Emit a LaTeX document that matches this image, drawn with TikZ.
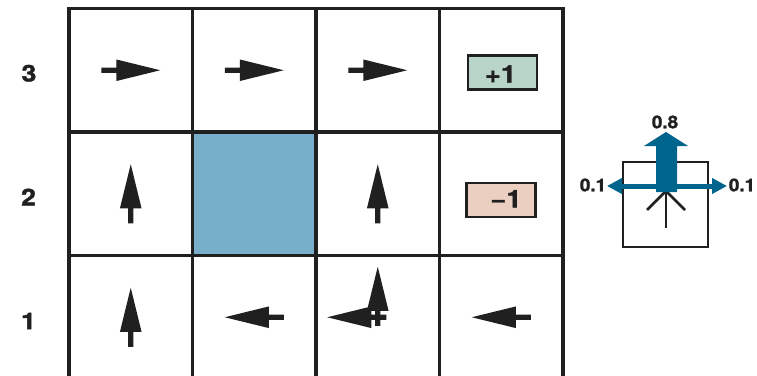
\documentclass[tikz,border=0pt]{standalone}
\usepackage{fontspec}
\setmainfont{TeX Gyre Heros}[BoldFeatures={FakeBold=1.5}]
\usetikzlibrary{arrows.meta}
\definecolor{gridc}{HTML}{202020}
\definecolor{blockc}{HTML}{77AFCB}
\definecolor{plusc}{HTML}{B9D5C9}
\definecolor{minusc}{HTML}{EBD0C1}
\definecolor{probc}{HTML}{00658C}
\begin{document}
\begin{tikzpicture}[x=1pt,y=-1pt,
  cell/.style={draw=gridc, line width=3.2pt, minimum size=123.5pt, inner sep=0pt, outer sep=0pt},
  rowlab/.style={font=\bfseries\fontsize{23}{23}\selectfont, text=gridc, inner sep=0pt, xscale=1.15},
  rbox/.style={draw=gridc, line width=2.2pt, minimum width=69pt, minimum height=34pt, inner sep=0pt},
  rtext/.style={font=\bfseries\fontsize{24.5}{24.5}\selectfont, text=gridc, inner sep=0pt, xscale=1.12},
  problab/.style={font=\bfseries\fontsize{17.5}{17.5}\selectfont, text=gridc, inner sep=0pt, xscale=1.08},
  arR/.pic={\fill[gridc] (-29.5,-2.6)--(-14.5,-2.6)--(-14.5,-10.8)--(29.5,0)--(-14.5,10.8)--(-14.5,2.6)--(-29.5,2.6)--cycle;},
  arL/.pic={\fill[gridc] (29.5,-2.6)--(14.5,-2.6)--(14.5,-10.8)--(-29.5,0)--(14.5,10.8)--(14.5,2.6)--(29.5,2.6)--cycle;},
  arU/.pic={\fill[gridc] (-2.6,29.5)--(-2.6,14.5)--(-10.8,14.5)--(0,-29.5)--(10.8,14.5)--(2.6,14.5)--(2.6,29.5)--cycle;}
]
\useasboundingbox (0,0) rectangle (757,375);
\clip (0,0) rectangle (757,375);
\fill[white] (0,0) rectangle (757,375);

% grid cells
\foreach \c in {1,...,4}{
  \foreach \r in {1,2,3}{
    \node[cell] (c\c\r) at ({69+123.5*(\c-0.5)}, {379-123.5*(\r-0.5)}) {};
  }
}
\fill[blockc] ([xshift=1.6pt,yshift=-1.6pt]c22.north west) rectangle ([xshift=-1.6pt,yshift=1.6pt]c22.south east);

% row labels
\node[rowlab] (r3) at (29,73.3) {3};
\node[rowlab] (r2) at (28.5,197) {2};
\node[rowlab] (r1) at (28.5,321) {1};

% policy arrows
\pic at (c13) {arR};
\pic at (c23) {arR};
\pic at (c33) {arR};
\pic at (c12) {arU};
\pic at (c32) {arU};
\pic at (c11) {arU};
\pic at (c21) {arL};
\pic at ([xshift=-21pt]c31) {arL};
\pic at ([yshift=21pt]c31) {arU};
\pic at (c41) {arL};

% rewards
\node[rbox, fill=plusc] (plus) at (502.5,72.5) {};
\node[rtext] (plust) at (500.5,74) {+1};
\node[rbox, fill=minusc] (minus) at (501,200) {};
\node[rtext] (minust) at (506,198.7) {−1};

% transition model
\node[draw=gridc, line width=2.2pt, minimum size=85pt, inner sep=0pt] (sbox) at (665.5,204.5) {};
\draw[gridc, line width=2.8pt] (666,228) -- (666,192);
\draw[gridc, line width=2.8pt] (647,210) -- (666,191) -- (685,210);
\coordinate (pl) at (607,186);
\coordinate (pr) at (727,186);
\draw[probc, line width=5pt, {Triangle[length=15pt,width=15pt]}-{Triangle[length=15pt,width=15pt]}] (pl) -- (pr);
\fill[probc] (656,192)--(656,146)--(644,146)--(666,132)--(688,146)--(677,146)--(677,192)--cycle;
\node[problab] (p08) at (665,122) {0.8};
\node[problab] (pl01) at (593,185) {0.1};
\node[problab] (pr01) at (742,185) {0.1};
\end{tikzpicture}
\end{document}
